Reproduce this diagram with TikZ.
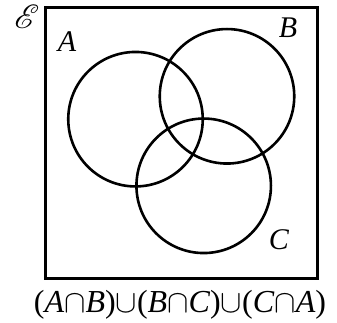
\documentclass[tikz,border=0pt]{standalone}
\usepackage{fix-cm}
\usepackage{fontspec}
\setmainfont{Liberation Serif}
\usepackage{mathrsfs}
\usetikzlibrary{positioning}

\begin{document}
\begin{tikzpicture}[
  x=1pt,y=-1pt,
  font=\fontsize{30}{36}\selectfont,
  setcirc/.style={draw=black,circle,line width=2.6pt,minimum size=134.5pt,inner sep=0pt,outer sep=0pt},
  univ/.style={draw=black,line width=2.6pt,minimum width=272pt,minimum height=271.5pt,inner sep=0pt},
  lab/.style={inner sep=0pt,font=\fontsize{30}{36}\selectfont\itshape}
]
\useasboundingbox (0,0) rectangle (337,323);
\node[univ] (U) at (181.7,143) {};
% the three sets
\node[setcirc] (A) at (135.5,119.2) {};
\node[setcirc] (B) at (227,96.3) {};
\node[setcirc] (C) at (203.7,185.8) {};

\node[lab,anchor=base] (labE) at (27,29) {\scalebox{1.35}{$\mathscr{E}$}};
\node[lab] (labA) at (67,42) {A};
\node[lab] (labB) at (288,28) {B};
\node[lab] (labC) at (279,239.5) {C};
\node[inner sep=0pt,anchor=base,font=\fontsize{32}{38}\selectfont] (expr) at (180,312.5)
  {(\textit{A}$\cap$\textit{B})$\cup$(\textit{B}$\cap$\textit{C})$\cup$(\textit{C}$\cap$\textit{A})};
\end{tikzpicture}
\end{document}
